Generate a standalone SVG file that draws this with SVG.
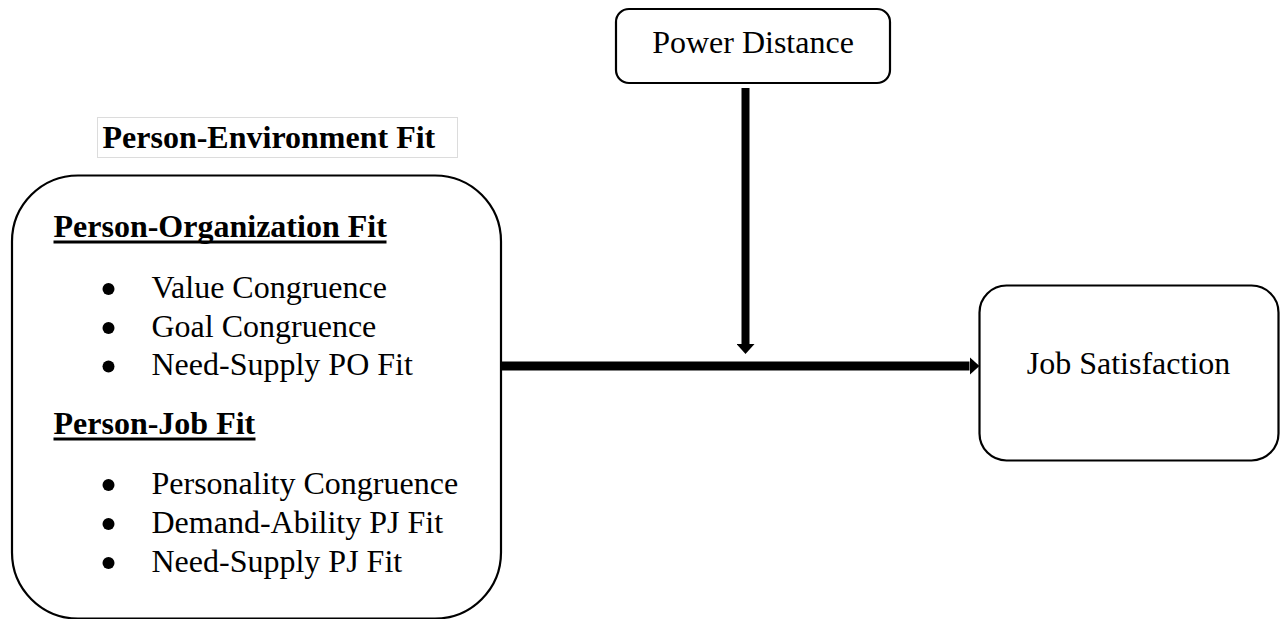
<svg xmlns="http://www.w3.org/2000/svg" width="1282" height="619" viewBox="0 0 1282 619">
<style>
  .box { fill: #ffffff; stroke: #000000; stroke-width: 2.2; }
  .txt { font-family: "Liberation Serif", "Times New Roman", serif; font-size: 32px; fill: #000000; }
  .bold { font-weight: bold; }
  .conn { stroke: #000000; fill: none; stroke-linecap: butt; }
  .ul { fill: #000000; }
  .dot { fill: #000000; }
</style>
<defs>
  <marker id="head" markerUnits="userSpaceOnUse" viewBox="0 0 10 18" refX="0" refY="9" markerWidth="10" markerHeight="18" orient="auto">
    <path d="M0,0 L10,9 L0,18 Z" fill="#000000"/>
  </marker>
</defs>
<rect width="1282" height="619" fill="#ffffff"/>

<g id="pe-fit-title">
  <rect x="97.5" y="117.5" width="360" height="40" fill="none" stroke="#dcdcdc" stroke-width="1"/>
  <text class="txt bold" x="102.5" y="147.5">Person-Environment Fit</text>
</g>

<g id="pe-fit">
  <rect class="box" x="12" y="175.5" width="489" height="443" rx="66" ry="66" stroke-width="2.6"/>
  <text class="txt bold" x="53.5" y="236.5">Person-Organization Fit</text>
  <rect class="ul" x="53.5" y="240.5" width="333" height="3"/>
  <circle class="dot" cx="108.5" cy="289" r="6"/>
  <text class="txt" x="151.5" y="297.5">Value Congruence</text>
  <circle class="dot" cx="108.5" cy="328" r="6"/>
  <text class="txt" x="151.5" y="336.5">Goal Congruence</text>
  <circle class="dot" cx="108.5" cy="366.5" r="6"/>
  <text class="txt" x="151.5" y="375">Need-Supply PO Fit</text>
  <text class="txt bold" x="53.5" y="433.5">Person-Job Fit</text>
  <rect class="ul" x="53.5" y="437.5" width="202" height="3"/>
  <circle class="dot" cx="108.5" cy="485" r="6"/>
  <text class="txt" x="151.5" y="493.5">Personality Congruence</text>
  <circle class="dot" cx="108.5" cy="524" r="6"/>
  <text class="txt" x="151.5" y="532.5">Demand-Ability PJ Fit</text>
  <circle class="dot" cx="108.5" cy="563" r="6"/>
  <text class="txt" x="151.5" y="571.5">Need-Supply PJ Fit</text>
</g>

<g id="power-distance">
  <rect class="box" x="616" y="9" width="274" height="74" rx="13" ry="13"/>
  <text class="txt" x="753" y="52.5" text-anchor="middle">Power Distance</text>
</g>

<g id="job-satisfaction">
  <rect class="box" x="979.5" y="285.5" width="299" height="175" rx="27" ry="27"/>
  <text class="txt" x="1128.5" y="373.5" text-anchor="middle">Job Satisfaction</text>
</g>

<g id="connectors">
  <line class="conn" x1="502" y1="366" x2="969.5" y2="366" stroke-width="9" marker-end="url(#head)"/>
  <line class="conn" x1="745.5" y1="88" x2="745.5" y2="344" stroke-width="8" marker-end="url(#head)"/>
</g>
</svg>
